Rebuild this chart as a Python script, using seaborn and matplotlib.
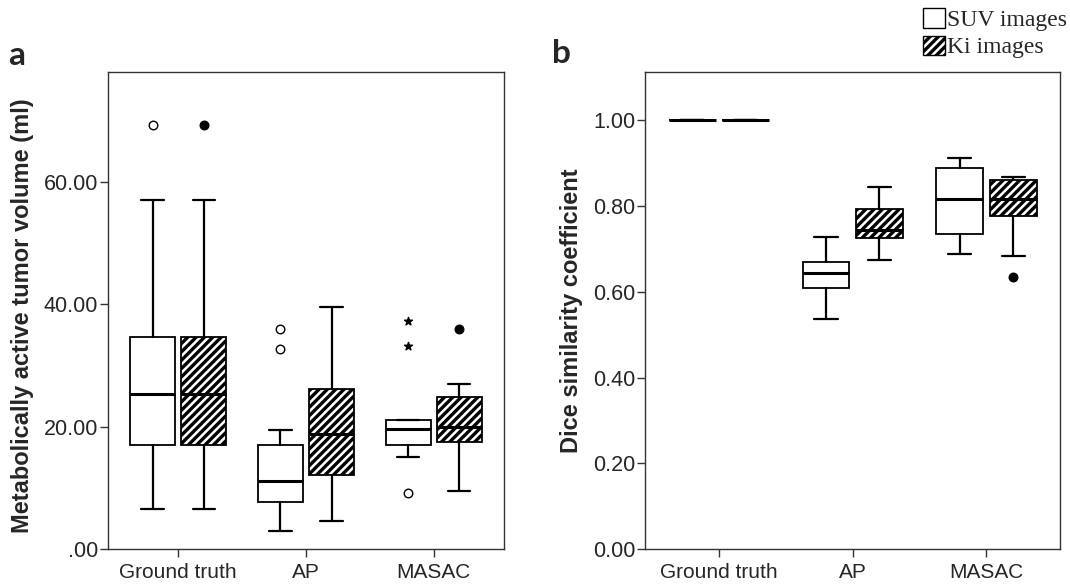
import matplotlib
matplotlib.use("Agg")
import matplotlib.pyplot as plt
from matplotlib.patches import Patch
from matplotlib.ticker import FixedLocator, FuncFormatter
import pandas as pd
import seaborn as sns

# ---------------------------------------------------------------- data
methods = ["Ground truth", "AP", "MASAC"]

# Metabolically active tumor volume (ml): whisker low, Q1, median, Q3, whisker high
vol_suv_low = [6.6, 2.9, 15.0]
vol_suv_q1 = [17.0, 7.7, 17.0]
vol_suv_med = [25.3, 11.1, 19.6]
vol_suv_q3 = [34.7, 17.0, 21.0]
vol_suv_high = [57.0, 19.5, 21.0]

vol_ki_low = [6.6, 4.6, 9.5]
vol_ki_q1 = [17.0, 12.1, 17.4]
vol_ki_med = [25.3, 18.8, 20.0]
vol_ki_q3 = [34.7, 26.2, 24.8]
vol_ki_high = [57.0, 39.6, 26.9]

vol_out_method = ["Ground truth", "Ground truth", "AP", "AP", "MASAC", "MASAC", "MASAC", "MASAC"]
vol_out_image = ["SUV", "Ki", "SUV", "SUV", "SUV", "SUV", "SUV", "Ki"]
vol_out_value = [69.3, 69.3, 35.9, 32.6, 37.2, 33.2, 9.2, 36.0]
vol_out_kind = ["outlier", "outlier", "outlier", "outlier", "extreme", "extreme", "outlier", "outlier"]

# Dice similarity coefficient
dsc_suv_low = [1.0, 0.537, 0.688]
dsc_suv_q1 = [1.0, 0.609, 0.736]
dsc_suv_med = [1.0, 0.645, 0.816]
dsc_suv_q3 = [1.0, 0.669, 0.888]
dsc_suv_high = [1.0, 0.728, 0.913]

dsc_ki_low = [1.0, 0.674, 0.684]
dsc_ki_q1 = [1.0, 0.725, 0.778]
dsc_ki_med = [1.0, 0.744, 0.816]
dsc_ki_q3 = [1.0, 0.793, 0.861]
dsc_ki_high = [1.0, 0.845, 0.868]

dsc_out_method = ["MASAC"]
dsc_out_image = ["Ki"]
dsc_out_value = [0.635]
dsc_out_kind = ["outlier"]

vol_ticks = [0, 20, 40, 60]
dsc_ticks = [0.0, 0.2, 0.4, 0.6, 0.8, 1.0]

# ---------------------------------------------------------------- style
sns.set_theme(style="ticks")
plt.rcParams["font.family"] = ["Liberation Sans", "DejaVu Sans"]
plt.rcParams["hatch.linewidth"] = 2.4
plt.rcParams["hatch.color"] = "black"

SANS = "Liberation Sans"
XTICK_FS = 15
YTICK_FS = 15.5
LABEL_FS = 17
OFFSET = 0.2
BOX_W = 0.35
KI_HATCH = "////"


def make_stats(low, q1, med, q3, high):
    return [dict(whislo=a, q1=b, med=c, q3=d, whishi=e, fliers=[])
            for a, b, c, d, e in zip(low, q1, med, q3, high)]


def draw_panel(ax, suv_stats, ki_stats, fliers):
    base = list(range(len(methods)))
    for stats, shift, hatch in ((suv_stats, -OFFSET, None), (ki_stats, OFFSET, KI_HATCH)):
        art = ax.bxp(
            stats,
            positions=[p + shift for p in base],
            widths=BOX_W,
            capwidths=BOX_W / 2,
            patch_artist=True,
            showfliers=False,
            manage_ticks=False,
            boxprops=dict(facecolor="white", edgecolor="black", linewidth=1.3),
            whiskerprops=dict(color="black", linewidth=1.6),
            capprops=dict(color="black", linewidth=1.6),
            medianprops=dict(color="black", linewidth=2.2, solid_capstyle="butt"),
        )
        if hatch:
            for b in art["boxes"]:
                b.set_hatch(hatch)

    fliers = fliers.copy()
    fliers["x"] = [methods.index(m) + (-OFFSET if img == "SUV" else OFFSET)
                   for m, img in zip(fliers["method"], fliers["image"])]
    for (img, kind), grp in fliers.groupby(["image", "kind"]):
        marker = "*" if kind == "extreme" else "o"
        face = "black" if (img == "Ki" or kind == "extreme") else "white"
        sns.scatterplot(data=grp, x="x", y="value", ax=ax, marker=marker,
                        s=36 if marker == "*" else 38, color=face,
                        edgecolor="black", linewidth=1.0, legend=False, zorder=5)

    ax.set_xlim(-0.55, len(methods) - 0.45)
    ax.xaxis.set_major_locator(FixedLocator(base))
    ax.set_xticklabels(methods, fontsize=XTICK_FS, family=SANS)
    ax.set_xlabel("")
    for side in ("top", "right", "bottom", "left"):
        ax.spines[side].set_visible(True)
        ax.spines[side].set_linewidth(1.0)
        ax.spines[side].set_color("#333333")
    ax.tick_params(axis="both", direction="out", length=6, width=1.0, color="#333333",
                   top=False, right=False)
    ax.tick_params(axis="y", pad=1, labelsize=YTICK_FS)
    ax.tick_params(axis="x", pad=4, labelsize=XTICK_FS)
    ax.grid(False)


fig = plt.figure(figsize=(10.7, 5.86), dpi=100)
ax_a = fig.add_axes([0.1009, 0.0631, 0.3701, 0.8140])
ax_b = fig.add_axes([0.6031, 0.0631, 0.3876, 0.8140])

vol_fliers = pd.DataFrame(dict(method=vol_out_method, image=vol_out_image,
                               value=vol_out_value, kind=vol_out_kind))
dsc_fliers = pd.DataFrame(dict(method=dsc_out_method, image=dsc_out_image,
                               value=dsc_out_value, kind=dsc_out_kind))

draw_panel(ax_a,
           make_stats(vol_suv_low, vol_suv_q1, vol_suv_med, vol_suv_q3, vol_suv_high),
           make_stats(vol_ki_low, vol_ki_q1, vol_ki_med, vol_ki_q3, vol_ki_high),
           vol_fliers)
ax_a.set_ylim(0, 77.9)
ax_a.yaxis.set_major_locator(FixedLocator(vol_ticks))
ax_a.yaxis.set_major_formatter(FuncFormatter(lambda v, _: ".00" if v == 0 else f"{v:.2f}"))
ax_a.set_ylabel("Metabolically active tumor volume (ml)", fontsize=LABEL_FS,
                fontweight="bold", family=SANS)
ax_a.yaxis.set_label_coords(-0.188, 0.49)

draw_panel(ax_b,
           make_stats(dsc_suv_low, dsc_suv_q1, dsc_suv_med, dsc_suv_q3, dsc_suv_high),
           make_stats(dsc_ki_low, dsc_ki_q1, dsc_ki_med, dsc_ki_q3, dsc_ki_high),
           dsc_fliers)
ax_b.set_ylim(0, 1.113)
ax_b.yaxis.set_major_locator(FixedLocator(dsc_ticks))
ax_b.yaxis.set_major_formatter(FuncFormatter(lambda v, _: f"{v:.2f}"))
ax_b.set_ylabel("Dice similarity coefficient", fontsize=LABEL_FS,
                fontweight="bold", family=SANS)
ax_b.yaxis.set_label_coords(-0.150, 0.5)

# panel letters
fig.text(0.008, 0.889, "a", fontsize=24, fontweight="bold", family="Lato", va="baseline")
fig.text(0.516, 0.892, "b", fontsize=24, fontweight="bold", family="Lato", va="baseline")

# legend
handles = [Patch(facecolor="white", edgecolor="black", linewidth=1.0),
           Patch(facecolor="white", edgecolor="black", linewidth=1.0, hatch=KI_HATCH)]
fig.legend(handles, ["SUV images", "Ki images"], loc="upper right",
           bbox_to_anchor=(1.013, 1.014), frameon=False,
           prop=dict(family="Liberation Serif", size=17),
           handlelength=0.9, handleheight=0.9, handletextpad=0.12,
           labelspacing=0.18, borderpad=0.2)

fig.savefig("out.png", dpi=100)
